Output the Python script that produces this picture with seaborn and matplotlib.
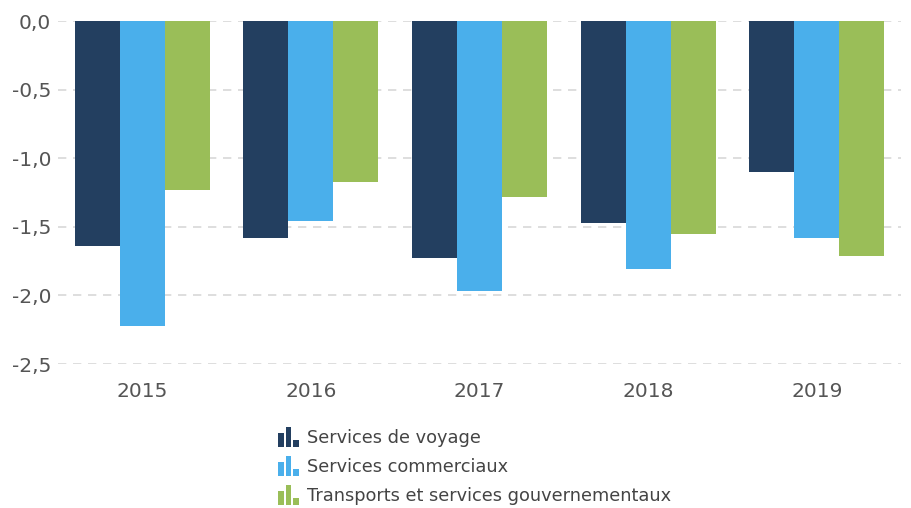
import matplotlib
matplotlib.use("Agg")
import matplotlib.pyplot as plt
import matplotlib.patches as mpatches
from matplotlib.legend_handler import HandlerBase
from matplotlib.ticker import FuncFormatter, FixedLocator
import seaborn as sns
import pandas as pd

years = ["2015", "2016", "2017", "2018", "2019"]
series = ["Services de voyage", "Services commerciaux", "Transports et services gouvernementaux"]
voyage = [-1.64, -1.58, -1.73, -1.47, -1.10]
commerciaux = [-2.22, -1.46, -1.97, -1.81, -1.58]
transports = [-1.23, -1.17, -1.28, -1.55, -1.71]
yticks = [0.0, -0.5, -1.0, -1.5, -2.0, -2.5]
colors = ["#233F60", "#4AAFEB", "#9ABE58"]

rows = []
for s, vals in zip(series, [voyage, commerciaux, transports]):
    for y, v in zip(years, vals):
        rows.append({"year": y, "series": s, "value": v})
df = pd.DataFrame(rows)

sns.set_theme(style="white")
plt.rcParams["font.family"] = ["DejaVu Sans"]

DPI = 100
PT = 72 / DPI  # points per pixel

fig = plt.figure(figsize=(9.11, 5.08), dpi=DPI)
ax = fig.add_axes([58 / 911, 1 - 364 / 508, (901 - 58) / 911, (364 - 21.3) / 508])

sns.barplot(data=df, x="year", y="value", hue="series", palette=colors,
            hue_order=series, order=years, width=0.8, saturation=1,
            legend=False, ax=ax, errorbar=None, linewidth=0, edgecolor="none")

ax.set_ylim(-2.5, 0)
ax.set_xlim(-0.5, 4.5)
ax.yaxis.set_major_locator(FixedLocator(yticks))
ax.yaxis.set_major_formatter(FuncFormatter(lambda v, p: f"{v:.1f}".replace(".", ",").replace("-0,0", "0,0")))
ax.set_xlabel("")
ax.set_ylabel("")
for sp in ax.spines.values():
    sp.set_visible(False)
ax.grid(axis="y", color="#d8d8d8", linestyle=(0, (5, 4)), linewidth=1.2)
ax.set_axisbelow(True)
ax.tick_params(axis="both", length=0, labelsize=14.5, labelcolor="#555555")
ax.tick_params(axis="y", pad=5)
ax.tick_params(axis="x", pad=13)


class BarIconHandler(HandlerBase):
    def __init__(self, color):
        super().__init__()
        self.color = color

    def create_artists(self, legend, orig_handle, xdescent, ydescent, width, height, fontsize, trans):
        h = 20 * PT
        y0 = -ydescent + height / 2 - h / 2
        bw = 5.5 * PT
        specs = [(0, 0.7), (7.5, 1.0), (15, 0.35)]
        arts = []
        for dx, fr in specs:
            r = mpatches.Rectangle((-xdescent + dx * PT, y0), bw, h * fr, facecolor=self.color,
                                   edgecolor="none", transform=trans)
            arts.append(r)
        return arts


fs = 12.8
handles = [mpatches.Patch(color=c, label=s) for c, s in zip(colors, series)]
handler_map = {h: BarIconHandler(c) for h, c in zip(handles, colors)}
leg = fig.legend(handles=handles, labels=series, handler_map=handler_map,
                 loc="upper left", bbox_to_anchor=(278 / 911, 1 - 428 / 508),
                 frameon=False, fontsize=fs, handlelength=20 * PT / fs, handleheight=1.2,
                 handletextpad=9 * PT / fs, labelspacing=0.55, borderaxespad=0, borderpad=0)
for t in leg.get_texts():
    t.set_color("#444444")

fig.savefig("out.png", dpi=DPI)
